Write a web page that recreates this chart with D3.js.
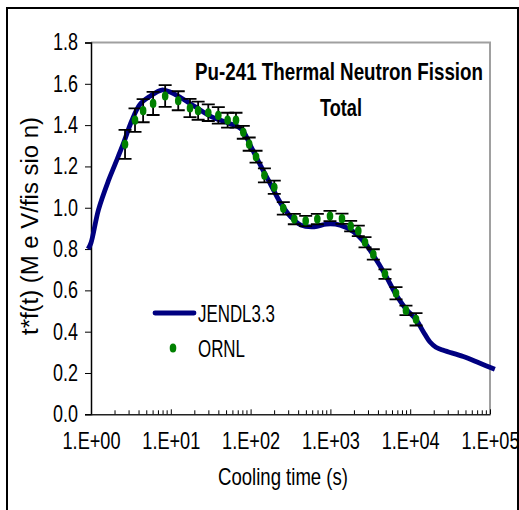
<!DOCTYPE html>
<html>
<head>
<meta charset="utf-8">
<script src="https://cdn.jsdelivr.net/npm/d3@7"></script>
<style>
  body { margin: 0; background: #fff; }
  text { font-family: "Liberation Sans", Arial, sans-serif; fill: #000; }
</style>
</head>
<body>
<div id="chart"></div>
<script>
// JENDL3.3 calculation (cooling time s, t*f(t) MeV/fission)
var jendlT = [0.92, 1.0, 1.24, 1.65, 2.0, 2.54, 3.23, 4.1, 5.5, 7.7, 9.8, 13.7, 20, 32.5, 52.5, 77, 100, 135, 180, 240, 321, 427, 630, 895, 1320, 1950, 2700, 3450, 4800, 6640, 8850, 12000, 14600, 17700, 21000, 26000, 46200, 75000, 115000]
var jendlV = [0.80, 0.83, 0.99, 1.13, 1.21, 1.31, 1.42, 1.50, 1.54, 1.57, 1.56, 1.53, 1.49, 1.44, 1.41, 1.38, 1.30, 1.20, 1.11, 1.02, 0.955, 0.916, 0.908, 0.921, 0.916, 0.884, 0.83, 0.77, 0.68, 0.58, 0.51, 0.456, 0.40, 0.35, 0.325, 0.31, 0.28, 0.247, 0.218]

// ORNL measurement
var ornlT = [2.67, 3.56, 4.5, 6.0, 8.5, 12.4, 17.4, 22, 29.5, 39.4, 51.5, 65.6, 81, 96, 117, 149, 198, 257, 353, 490, 686, 988, 1397, 1795, 2237, 2715, 3450, 4830, 6640, 8850, 11830]
var ornlV = [1.307, 1.424, 1.470, 1.505, 1.541, 1.518, 1.483, 1.470, 1.460, 1.447, 1.424, 1.424, 1.365, 1.308, 1.247, 1.157, 1.099, 0.997, 0.945, 0.936, 0.945, 0.960, 0.947, 0.911, 0.888, 0.833, 0.774, 0.679, 0.586, 0.503, 0.460]
var ornlErr = [0.070, 0.057, 0.056, 0.056, 0.053, 0.046, 0.044, 0.044, 0.040, 0.040, 0.036, 0.036, 0.031, 0.032, 0.029, 0.034, 0.032, 0.030, 0.025, 0.025, 0.025, 0.025, 0.025, 0.025, 0.025, 0.025, 0.025, 0.023, 0.030, 0.023, 0.030]

var yTicks = [0, 0.2, 0.4, 0.6, 0.8, 1.0, 1.2, 1.4, 1.6, 1.8]
var xTicks = [1, 10, 100, 1000, 10000, 100000]
var xTickLabels = ["1.E+00", "1.E+01", "1.E+02", "1.E+03", "1.E+04", "1.E+05"]

var width = 519, height = 510
var pLeft = 91, pRight = 490, pTop = 42.5, pBottom = 414.3

var svg = d3.select('#chart').append('svg')
  .attr('width', width)
  .attr('height', height)

var x = d3.scaleLog().domain([1, 100000]).range([pLeft, pRight])
var y = d3.scaleLinear().domain([0, 1.8]).range([pBottom, pTop])

// squeeze text to the narrow look of the original
function fit(sel, w) {
  sel.attr('textLength', w).attr('lengthAdjust', 'spacingAndGlyphs')
}

// outer frame
svg.append('path')
  .attr('d', 'M7,520 V8 H518 V520')
  .attr('fill', 'none')
  .attr('stroke', '#000')
  .attr('stroke-width', 2)

// plot frame top / right (grey)
svg.append('path')
  .attr('d', 'M' + pLeft + ',' + pTop + ' H' + pRight + ' V' + pBottom)
  .attr('fill', 'none')
  .attr('stroke', '#a0a0a0')
  .attr('stroke-width', 2)

// y axis
var yAxis = svg.append('g')
  .attr('transform', 'translate(' + pLeft + ',0)')
  .call(d3.axisLeft(y).tickValues(yTicks).tickFormat(d3.format('.1f')).tickSizeOuter(0).tickSize(6).tickPadding(7))
yAxis.select('.domain').attr('stroke', '#000').attr('stroke-width', 1.5)
yAxis.selectAll('.tick line').attr('stroke', '#000')
yAxis.selectAll('.tick text')
  .attr('font-size', 23)
  .attr('font-family', '"Liberation Sans", Arial, sans-serif')
  .call(fit, 25)

// x axis
var xAxis = svg.append('g')
  .attr('transform', 'translate(0,' + pBottom + ')')
  .call(d3.axisBottom(x).tickValues(xTicks)
    .tickFormat(function(d, i) { return xTickLabels[i] })
    .tickSizeInner(-5).tickSizeOuter(0).tickPadding(18))
xAxis.select('.domain').attr('stroke', '#222').attr('stroke-width', 1.5)
xAxis.selectAll('.tick line').attr('stroke', '#000')
xAxis.selectAll('.tick text')
  .attr('font-size', 24)
  .attr('font-family', '"Liberation Sans", Arial, sans-serif')
  .call(fit, 58)

// minor log ticks
var minor = []
for (var p = 0; p < 5; p++) {
  for (var m = 2; m <= 9; m++) minor.push(m * Math.pow(10, p))
}
svg.append('g').selectAll('line')
  .data(minor)
  .enter()
  .append('line')
  .attr('x1', d => x(d))
  .attr('x2', d => x(d))
  .attr('y1', pBottom)
  .attr('y2', pBottom - 4)
  .attr('stroke', '#000')

// JENDL curve
var line = d3.line()
  .x(d => x(d[0]))
  .y(d => y(d[1]))
  .curve(d3.curveCatmullRom)

svg.append('path')
  .datum(jendlT.map((t, i) => [t, jendlV[i]]))
  .attr('d', line)
  .attr('fill', 'none')
  .attr('stroke', '#000080')
  .attr('stroke-width', 4.8)
  .attr('stroke-linejoin', 'round')

// ORNL points with error bars
var ornl = ornlT.map((t, i) => ({t: t, v: ornlV[i], e: ornlErr[i]}))

var bars = svg.append('g').attr('stroke', '#000').attr('stroke-width', 1.8)
bars.selectAll('.eb')
  .data(ornl)
  .enter()
  .append('path')
  .attr('d', function(d) {
    var cx = x(d.t), y1 = y(d.v + d.e), y2 = y(d.v - d.e), w = 6.5
    return 'M' + cx + ',' + y1 + 'V' + y2 +
      'M' + (cx - w) + ',' + y1 + 'H' + (cx + w) +
      'M' + (cx - w) + ',' + y2 + 'H' + (cx + w)
  })
  .attr('fill', 'none')

svg.append('g').selectAll('ellipse')
  .data(ornl)
  .enter()
  .append('ellipse')
  .attr('cx', d => x(d.t))
  .attr('cy', d => y(d.v))
  .attr('rx', 3.3)
  .attr('ry', 4.6)
  .attr('fill', '#008000')

// title
svg.append('text')
  .attr('x', 339).attr('y', 80)
  .attr('text-anchor', 'middle')
  .attr('font-size', 24).attr('font-weight', 'bold')
  .text('Pu-241 Thermal Neutron Fission')
  .call(fit, 288)
svg.append('text')
  .attr('x', 341).attr('y', 116)
  .attr('text-anchor', 'middle')
  .attr('font-size', 24).attr('font-weight', 'bold')
  .text('Total')
  .call(fit, 42)

// axis titles
svg.append('text')
  .attr('x', 283).attr('y', 485)
  .attr('text-anchor', 'middle')
  .attr('font-size', 24)
  .text('Cooling time (s)')
  .call(fit, 130)

svg.append('text')
  .attr('transform', 'translate(38,226) rotate(-90)')
  .attr('text-anchor', 'middle')
  .attr('font-size', 23)
  .text('t*f(t)  (M e V/fis sio n)')
  .call(fit, 218)

// legend
svg.append('line')
  .attr('x1', 155).attr('x2', 194)
  .attr('y1', 313).attr('y2', 313)
  .attr('stroke', '#000080')
  .attr('stroke-width', 4.8)
  .attr('stroke-linecap', 'round')
svg.append('text')
  .attr('x', 198).attr('y', 322)
  .attr('font-size', 24)
  .text('JENDL3.3')
  .call(fit, 77)
svg.append('ellipse')
  .attr('cx', 173).attr('cy', 348)
  .attr('rx', 3.3).attr('ry', 4.6)
  .attr('fill', '#008000')
svg.append('text')
  .attr('x', 198).attr('y', 357)
  .attr('font-size', 24)
  .text('ORNL')
  .call(fit, 47)
</script>
</body>
</html>
